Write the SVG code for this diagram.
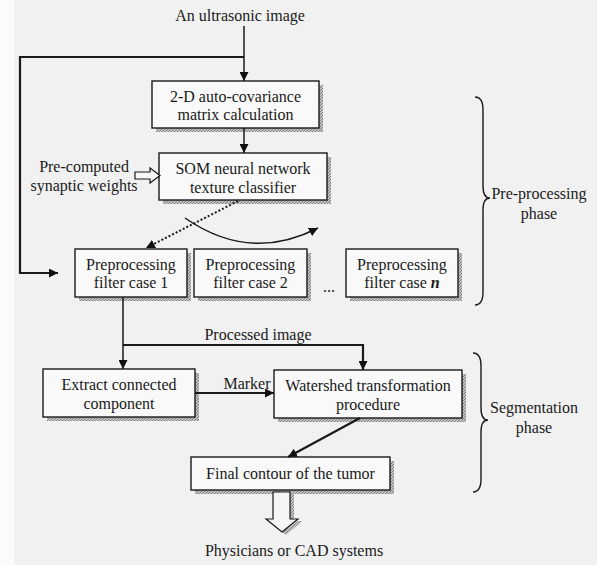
<svg xmlns="http://www.w3.org/2000/svg" width="597" height="565" viewBox="0 0 597 565">
<defs>
<marker id="ah" viewBox="0 0 10 10" refX="10" refY="5" markerWidth="9" markerHeight="9" markerUnits="userSpaceOnUse" orient="auto">
<path d="M0,0 L10,5 L0,10 z" fill="#111"/>
</marker>
<pattern id="hatch" width="3" height="3" patternUnits="userSpaceOnUse">
<rect width="3" height="3" fill="#c4c4c4"/>
<path d="M0,3 L3,0" stroke="#7a7a7a" stroke-width="1"/>
</pattern>
</defs>
<style>
text{font-family:"Liberation Serif","Times New Roman",serif;font-size:16px;fill:#1a1a1a;text-anchor:middle}
.box{fill:#f9f9f9;stroke:#1a1a1a;stroke-width:1.4}
.sh{fill:url(#hatch)}
.ln{fill:none;stroke:#1a1a1a;stroke-width:1.5}
.bold{fill:none;stroke:#1a1a1a;stroke-width:2.2}
.br{fill:none;stroke:#1a1a1a;stroke-width:1.4}
</style>
<rect width="597" height="565" fill="#f1f1f1"/>
<rect width="14" height="565" fill="#fbfbfb"/>

<text x="240" y="21">An ultrasonic image</text>
<text x="84" y="172">Pre-computed</text>
<text x="84" y="191">synaptic weights</text>
<text x="329" y="292">...</text>
<text x="258" y="340">Processed image</text>
<text x="247" y="389">Marker</text>
<text x="294" y="556">Physicians or CAD systems</text>

<g id="box-autocov">
<rect class="sh" x="156" y="85" width="167" height="47"/>
<rect class="box" x="152" y="81" width="167" height="47"/>
<text x="235.5" y="102">2-D auto-covariance</text>
<text x="235.5" y="120">matrix calculation</text>
</g>
<g id="box-som">
<rect class="sh" x="163" y="157" width="168" height="47"/>
<rect class="box" x="159" y="153" width="168" height="47"/>
<text x="243" y="174">SOM neural network</text>
<text x="243" y="193">texture classifier</text>
</g>
<g id="box-case1">
<rect class="sh" x="79" y="253" width="112" height="48"/>
<rect class="box" x="75" y="249" width="112" height="48"/>
<text x="131" y="270">Preprocessing</text>
<text x="131" y="288">filter case 1</text>
</g>
<g id="box-case2">
<rect class="sh" x="198" y="253" width="113" height="48"/>
<rect class="box" x="194" y="249" width="113" height="48"/>
<text x="250.5" y="270">Preprocessing</text>
<text x="250.5" y="288">filter case 2</text>
</g>
<g id="box-casen">
<rect class="sh" x="350" y="253" width="112" height="48"/>
<rect class="box" x="346" y="249" width="112" height="48"/>
<text x="402" y="270">Preprocessing</text>
<text x="402" y="288">filter case <tspan font-style="italic" font-weight="bold">n</tspan></text>
</g>
<g id="box-extract">
<rect class="sh" x="47" y="373" width="152" height="48"/>
<rect class="box" x="43" y="369" width="152" height="48"/>
<text x="119" y="390">Extract connected</text>
<text x="119" y="409">component</text>
</g>
<g id="box-watershed">
<rect class="sh" x="278" y="374" width="188" height="48"/>
<rect class="box" x="274" y="370" width="188" height="48"/>
<text x="368" y="391">Watershed transformation</text>
<text x="368" y="410">procedure</text>
</g>
<g id="box-final">
<rect class="sh" x="195" y="461" width="199" height="33"/>
<rect class="box" x="191" y="457" width="199" height="33"/>
<text x="290.5" y="479">Final contour of the tumor</text>
</g>

<g id="brace-pre">
<path class="br" d="M475,97 Q483,97 483,110 L483,186 Q483,198 490,198 Q483,198 483,210 L483,292 Q483,305 475,305"/>
<text x="539" y="199">Pre-processing</text>
<text x="539" y="219">phase</text>
</g>
<g id="brace-seg">
<path class="br" d="M473,353 Q481,353 481,366 L481,408 Q481,420 488,420 Q481,420 481,432 L481,479 Q481,492 473,492"/>
<text x="534" y="413">Segmentation</text>
<text x="534" y="433">phase</text>
</g>

<g id="connectors">
<path class="ln" d="M244,26 L244,81" marker-end="url(#ah)"/>
<path class="bold" d="M244,57 L20,57 L20,273 L58,273" marker-end="url(#ah)"/>
<path class="ln" d="M244,128 L244,153" marker-end="url(#ah)"/>
<path fill="none" stroke="#1a1a1a" stroke-width="2" stroke-dasharray="2,2" d="M238,201 L146,248" marker-end="url(#ah)"/>
<path class="ln" d="M185,218 Q250,263 318,228" marker-end="url(#ah)"/>
<path class="ln" d="M123,297 L123,369" marker-end="url(#ah)"/>
<path class="bold" d="M123,345 L363,345 L363,370" marker-end="url(#ah)"/>
<path class="bold" d="M195,393 L274,393" marker-end="url(#ah)"/>
<path class="bold" d="M360,418 L288,457" marker-end="url(#ah)"/>
<path fill="#f6f6f6" stroke="#1a1a1a" stroke-width="1.2" d="M135,172 L150,172 L150,168 L160,175.5 L150,183 L150,179 L135,179 z"/>
<path fill="url(#hatch)" d="M290,494 L294,494 L294,521 L302,521 L286,535 L282,532 L298,521 L290,521 z"/>
<path fill="#f6f6f6" stroke="#1a1a1a" stroke-width="1.2" d="M273,492 L290,492 L290,519 L298,519 L282,532 L266,519 L273,519 z"/>
</g>
</svg>
